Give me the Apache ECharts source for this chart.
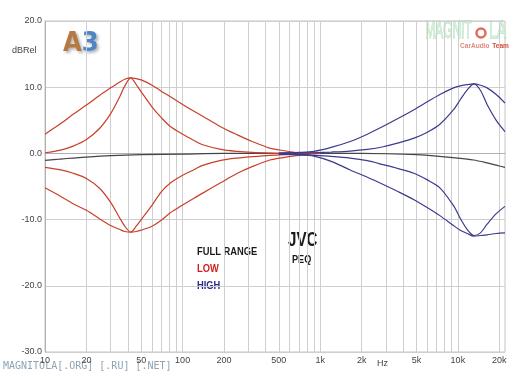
<!DOCTYPE html>
<html>
<head>
<meta charset="utf-8">
<script src="https://cdn.jsdelivr.net/npm/echarts@6/dist/echarts.min.js"></script>
<style>
  html, body { margin: 0; padding: 0; background: #fff; }
  #chart { width: 526px; height: 376px; }
</style>
</head>
<body>
<div id="chart"></div>
<script>
// low band curves, read at these frequencies (Hz)
var lowFreq = [10, 13, 16, 20, 25, 30, 35, 38, 42, 46, 50, 60, 70, 81, 100, 120, 140, 190, 250, 320, 430, 550, 700, 850, 1000]
var lowBoostWide = [2.9, 4.5, 5.9, 7.3, 8.8, 9.9, 10.8, 11.2, 11.4, 11.3, 11.1, 10.3, 9.4, 8.6, 7.4, 6.4, 5.6, 4.0, 2.8, 1.8, 0.8, 0.4, 0.1, 0, 0]
var lowBoostNarrow = [0.1, 0.5, 1.1, 2.1, 3.8, 6.0, 8.6, 10.2, 11.4, 10.4, 9.3, 7.0, 5.4, 4.1, 2.9, 2.0, 1.3, 0.6, 0.3, 0.15, 0.05, 0, 0, 0, 0]
var lowCutNarrow = [-2.1, -2.5, -3.0, -3.8, -5.3, -7.4, -9.8, -11.0, -11.9, -11.0, -10.0, -7.8, -5.8, -4.5, -3.3, -2.5, -1.8, -1.05, -0.7, -0.5, -0.3, -0.2, -0.1, 0, 0]
var lowCutWide = [-5.2, -6.5, -7.6, -8.6, -9.9, -10.9, -11.5, -11.8, -11.9, -11.8, -11.6, -11.0, -10.1, -9.0, -7.8, -6.8, -6.0, -4.4, -3.0, -2.0, -1.0, -0.6, -0.3, -0.1, 0]

// high band curves
var highFreq = [500, 700, 900, 1200, 1650, 2200, 2870, 3700, 4800, 6000, 7400, 9300, 10400, 11700, 13100, 14600, 16300, 19000, 22000]
var highBoostWide = [0.05, 0.15, 0.3, 0.9, 1.8, 2.9, 4.1, 5.3, 6.6, 7.8, 8.9, 9.9, 10.2, 10.4, 10.5, 10.3, 9.9, 8.9, 7.6]
var highBoostNarrow = [0, 0.05, 0.1, 0.2, 0.35, 0.6, 1.0, 1.6, 2.3, 3.2, 4.4, 6.6, 8.1, 9.6, 10.5, 9.5, 7.4, 5.0, 3.3]
var highCutNarrow = [-0.1, -0.2, -0.3, -0.45, -0.7, -1.1, -1.7, -2.3, -3.0, -4.0, -5.2, -7.9, -9.8, -11.5, -12.4, -12.0, -10.7, -9.1, -8.0]
var highCutWide = [-0.1, -0.2, -0.4, -1.2, -2.5, -3.6, -4.7, -5.8, -7.0, -8.2, -9.4, -10.9, -11.6, -12.1, -12.5, -12.4, -12.3, -12.1, -12.0]

// full range response
var fullFreq = [10, 13, 16, 20, 30, 50, 100, 200, 500, 1000, 2000, 3000, 5000, 7000, 10000, 13000, 16000, 20000, 22000]
var fullRange = [-1.05, -0.85, -0.7, -0.55, -0.35, -0.2, -0.1, 0, 0, 0, 0, -0.05, -0.2, -0.4, -0.7, -1.0, -1.4, -1.9, -2.1]

// axis ticks
var xLabelFreq = [10, 20, 50, 100, 200, 500, 1000, 2000, 5000, 10000, 20000]
var xGridFreq = [10, 20, 30, 40, 50, 60, 70, 80, 90, 100, 200, 300, 400, 500, 600, 700, 800, 900,
  1000, 2000, 3000, 4000, 5000, 6000, 7000, 8000, 9000, 10000, 20000]

var RED = '#c8402a'
var BLUE = '#3b3b8f'
var GRAY = '#454545'

function lg(f) {
  return Math.log10(f)
}
function pairs(freq, vals) {
  return freq.map(function (f, i) { return [lg(f), vals[i]] })
}
function curve(freq, vals, color) {
  return {
    type: 'line',
    data: pairs(freq, vals),
    showSymbol: false,
    smooth: 0.3,
    lineStyle: { width: 1.2, color: color },
    silent: true,
  }
}
function label(text, left, top, font, fill, sx) {
  return { type: 'text', left: left, top: top, scaleX: sx || 1, style: { text: text, fill: fill, font: font } }
}

var chart = echarts.init(document.getElementById('chart'))
var option = {
  animation: false,
  backgroundColor: '#fff',
  grid: {
    left: 45,
    right: 21,
    top: 21,
    bottom: 24,
    show: true,
    borderColor: '#c4c4c4',
    borderWidth: 1,
  },
  xAxis: {
    type: 'value',
    min: 1,
    max: lg(22000),
    axisLine: { show: true, lineStyle: { color: '#b0b0b0' } },
    axisTick: { show: false, customValues: xGridFreq.map(lg) },
    splitLine: { show: true, lineStyle: { color: '#cfcfcf', width: 1 } },
    axisLabel: {
      customValues: xLabelFreq.map(lg),
      color: '#444',
      fontSize: 9,
      fontFamily: 'Liberation Sans',
      margin: 4,
      formatter: function (v) {
        var f = Math.round(Math.pow(10, v))
        return f >= 1000 ? f / 1000 + 'k' : '' + f
      },
    },
  },
  yAxis: {
    type: 'value',
    min: -30,
    max: 20,
    interval: 10,
    axisLine: { show: true, lineStyle: { color: '#b0b0b0' } },
    axisTick: { show: false },
    splitLine: { show: true, lineStyle: { color: '#cfcfcf', width: 1 } },
    axisLabel: {
      color: '#444',
      fontSize: 9,
      fontFamily: 'Liberation Sans',
      margin: 3,
      formatter: function (v) {
        return v.toFixed(1)
      },
    },
  },
  graphic: [
    label('dBRel', 12, 46, '9px "Liberation Sans"', '#444'),
    label('Hz', 377, 359, '9px "Liberation Sans"', '#444'),
    label('MAGNITOLA[.ORG] [.RU] [.NET]', 3, 361, '10px "DejaVu Sans Mono"', '#8fa3b5'),
    {
      type: 'text', left: 63, top: 30, scaleX: 0.9,
      style: {
        text: '{a|A}{b|3}',
        rich: {
          a: { fill: '#b57a42', font: 'bold 27px "DejaVu Sans"', textShadowColor: 'rgba(0,0,0,0.3)', textShadowBlur: 3, textShadowOffsetX: 2, textShadowOffsetY: 2 },
          b: { fill: '#4f84c6', font: 'bold 27px "DejaVu Sans"', textShadowColor: 'rgba(0,0,0,0.3)', textShadowBlur: 3, textShadowOffsetX: 2, textShadowOffsetY: 2 },
        },
      },
    },
    { type: 'text', left: 425, top: 20, scaleX: 0.52, style: { text: 'MAGNIT', fill: '#d2f0da', stroke: '#9fd6ae', lineWidth: 0.8, font: '23px "Liberation Sans"' } },
    { type: 'text', left: 489, top: 20, scaleX: 0.6, style: { text: 'LA', fill: '#d2f0da', stroke: '#9fd6ae', lineWidth: 0.8, font: '23px "Liberation Sans"' } },
    { type: 'circle', shape: { cx: 481, cy: 33, r: 4.5 }, style: { fill: 'none', stroke: '#e06e5e', lineWidth: 2.5 } },
    {
      type: 'text', left: 460, top: 40, scaleX: 0.82,
      style: {
        text: '{a|CarAudio} {b|Team}',
        rich: {
          a: { fill: '#e08a80', font: 'bold 8px "Liberation Sans"' },
          b: { fill: '#d84b3c', font: 'bold 8px "Liberation Sans"' },
        },
      },
    },
    label('FULL RANGE', 197, 246, 'bold 11px "Liberation Sans"', '#1a1a1a', 0.85),
    label('LOW', 197, 263, 'bold 11px "Liberation Sans"', '#d01e1e', 0.85),
    label('HIGH', 197, 280, 'bold 11px "Liberation Sans"', '#2a2a8a', 0.85),
    label('JVC', 288, 230, 'bold 21px "Liberation Sans"', '#1a1a1a', 0.72),
    label('PEQ', 292, 254, 'bold 11px "Liberation Sans"', '#1a1a1a', 0.83),
  ],
  series: [
    curve(fullFreq, fullRange, GRAY),
    curve(lowFreq, lowBoostWide, RED),
    curve(lowFreq, lowBoostNarrow, RED),
    curve(lowFreq, lowCutNarrow, RED),
    curve(lowFreq, lowCutWide, RED),
    curve(highFreq, highBoostWide, BLUE),
    curve(highFreq, highBoostNarrow, BLUE),
    curve(highFreq, highCutNarrow, BLUE),
    curve(highFreq, highCutWide, BLUE),
  ],
}
chart.setOption(option)
</script>
</body>
</html>
